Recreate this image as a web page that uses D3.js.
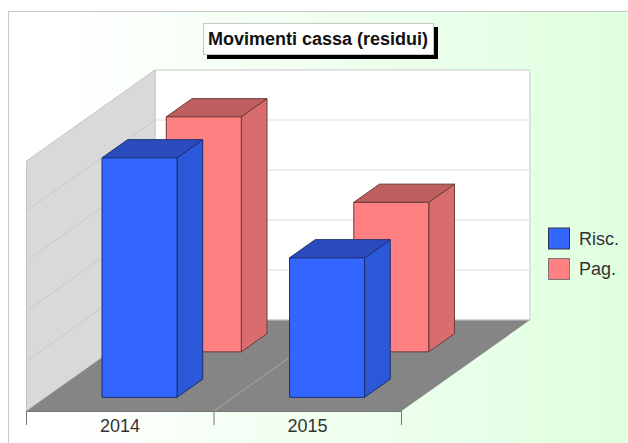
<!DOCTYPE html>
<html><head><meta charset="utf-8">
<script src="https://d3js.org/d3.v7.min.js"></script>
<style>html,body{margin:0;padding:0;background:#fff;overflow:hidden}svg{display:block}text{font-family:"Liberation Sans",Arial,sans-serif}</style>
</head><body><div id="chart"></div>
<script>
const categories = ["2014", "2015"];
const seriesNames = ["Risc.", "Pag."];
const risc = [4.79, 2.79];
const pag = [4.7, 2.99];
const yTicks = [0, 1, 2, 3, 4, 5];
const titleText = "Movimenti cassa (residui)";

const W = 628, H = 443;
const svg = d3.select("#chart").append("svg").attr("width", W).attr("height", H);
const defs = svg.append("defs");
const grad = defs.append("linearGradient").attr("id", "bg");
grad.append("stop").attr("offset", "0%").attr("stop-color", "#ffffff");
grad.append("stop").attr("offset", "8%").attr("stop-color", "#ffffff");
grad.append("stop").attr("offset", "100%").attr("stop-color", "#dfffdf");

svg.append("rect").attr("x", 8.5).attr("y", 11.5).attr("width", W).attr("height", H)
  .attr("fill", "url(#bg)").attr("stroke", "#c8c8c8");

// plot geometry
const x0 = 26.5, x1 = 401.5, y0 = 411, dX = 128.5, dY = -91, plotH = 250;
const x = d3.scaleBand().domain(categories).range([x0, x1]).paddingInner(0).paddingOuter(0);
const y = d3.scaleLinear().domain([0, 5]).range([0, -plotH]);
const depth = d3.scaleBand().domain(seriesNames).range([0, 1]).paddingInner(0.6).paddingOuter(0.3);
const barW = x.bandwidth() * 0.4;
const barOff = x.bandwidth() * 0.3;

// projection of (horizontal px, value, depth 0..1) to the screen
const P = (px, v, d) => [px + d * dX, y0 + y(v) + d * dY];
const poly = pts => "M" + pts.map(p => p.join(",")).join("L") + "Z";

// back wall
svg.append("path").attr("d", poly([P(x0,5,1),P(x1,5,1),P(x1,0,1),P(x0,0,1)]))
  .attr("fill", "#ffffff").attr("stroke", "#c8c8c8");
// left wall
svg.append("path").attr("d", poly([P(x0,5,0),P(x0,5,1),P(x0,0,1),P(x0,0,0)]))
  .attr("fill", "#d9d9d9").attr("stroke", "#c4c4c4");
// gridlines
yTicks.slice(1, -1).forEach(t => {
  svg.append("path").attr("fill", "none").attr("stroke", "#dcdcdc")
    .attr("d", d3.line()([P(x1,t,1),P(x0,t,1)]));
  svg.append("path").attr("fill", "none").attr("stroke", "#c9c9c9")
    .attr("d", d3.line()([P(x0,t,1),P(x0,t,0)]));
});
// floor
svg.append("path").attr("d", poly([P(x0,0,0),P(x1,0,0),P(x1,0,1),P(x0,0,1)]))
  .attr("fill", "#858585");
svg.append("path").attr("fill", "none").attr("stroke", "#c8c8c8")
  .attr("d", d3.line()([P(x0,0,1),P(x1,0,1)]));
const mid = x(categories[1]);
svg.append("path").attr("fill", "none").attr("stroke", "#a8a8a8")
  .attr("d", d3.line()([P(mid,0,0),P(mid,0,1)]));

// x axis
const axis = svg.append("g");
axis.append("path").attr("fill", "none").attr("stroke", "#777")
  .attr("d", d3.line()([[x0, y0 + .5], [x1, y0 + .5]]));
[x0, mid, x1].forEach(t => axis.append("line").attr("x1", t).attr("x2", t)
  .attr("y1", y0).attr("y2", y0 + 14).attr("stroke", "#777"));
categories.forEach(c => axis.append("text").attr("x", x(c) + x.bandwidth() / 2 - .25).attr("y", 432)
  .attr("text-anchor", "middle").attr("font-size", 18).attr("fill", "#333").text(c));

// bars
const palette = [
  {front:"#3366ff", side:"#2b57d9", top:"#2a4cbf", stroke:"#1c2f70"},
  {front:"#ff8080", side:"#d96d6d", top:"#bf6060", stroke:"#6a3a3a"}
];
const series = [risc, pag];
[1, 0].forEach(s => {
  const name = seriesNames[s], c = palette[s];
  const d0 = depth(name), d1 = d0 + depth.bandwidth();
  const g = svg.append("g");
  const data = categories.map((k, i) => ({k, v: series[s][i]}));
  const bar = g.selectAll("g").data(data).join("g")
    .attr("stroke", c.stroke).attr("stroke-width", 1).attr("stroke-linejoin", "round");
  const L = d => x(d.k) + barOff, R = d => L(d) + barW;
  bar.append("path").attr("fill", c.side)
    .attr("d", d => poly([P(R(d),0,d0),P(R(d),0,d1),P(R(d),d.v,d1),P(R(d),d.v,d0)]));
  bar.append("path").attr("fill", c.top)
    .attr("d", d => poly([P(L(d),d.v,d0),P(L(d),d.v,d1),P(R(d),d.v,d1),P(R(d),d.v,d0)]));
  bar.append("path").attr("fill", c.front)
    .attr("d", d => poly([P(L(d),0,d0),P(R(d),0,d0),P(R(d),d.v,d0),P(L(d),d.v,d0)]));
});

// title
svg.append("rect").attr("x", 207).attr("y", 27).attr("width", 231).attr("height", 32).attr("fill", "#000");
svg.append("rect").attr("x", 203.5).attr("y", 23.5).attr("width", 230).attr("height", 31)
  .attr("fill", "#fff").attr("stroke", "#c8c8c8");
svg.append("text").attr("x", 318).attr("y", 45).attr("text-anchor", "middle")
  .attr("font-size", 18).attr("font-weight", "bold").attr("fill", "#111").text(titleText);

// legend
const legY = d3.scalePoint().domain(seriesNames).range([228, 258.5]);
seriesNames.forEach((n, i) => {
  svg.append("rect").attr("x", 548.5).attr("y", legY(n)).attr("width", 21).attr("height", 21)
    .attr("fill", palette[i].front).attr("stroke", i ? "#777" : "#334");
  svg.append("text").attr("x", 579).attr("y", legY(n) + 16.5).attr("font-size", 18)
    .attr("fill", "#333").text(n);
});
</script></body></html>
